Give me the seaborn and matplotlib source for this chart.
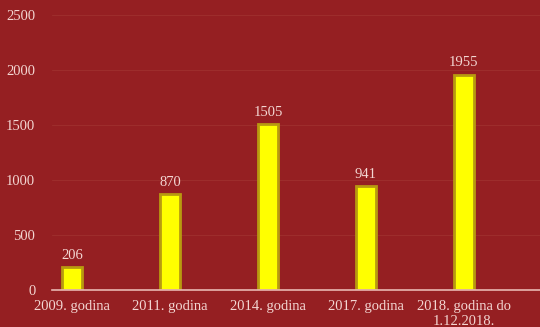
import matplotlib
matplotlib.use("Agg")
import matplotlib.pyplot as plt
import seaborn as sns
import pandas as pd

categories = ["2009. godina", "2011. godina", "2014. godina", "2017. godina", "2018. godina do\n1.12.2018."]
values = [206, 870, 1505, 941, 1955]
yticks = [0, 500, 1000, 1500, 2000, 2500]

BG = "#951f22"
TXT = "#f3d6d2"

sns.set_theme(style="white")
plt.rcParams["font.family"] = ["Liberation Serif", "DejaVu Serif"]

W, H = 540, 327
fig = plt.figure(figsize=(W / 100, H / 100), dpi=100)
fig.patch.set_facecolor(BG)
ax = fig.add_axes([52 / W, (327 - 290) / H, (540 - 52) / W, (290 - 15) / H])
ax.set_facecolor(BG)

df = pd.DataFrame({"cat": categories, "val": values})
sns.barplot(data=df, x="cat", y="val", ax=ax, width=0.2, color="#ffff00",
            edgecolor="#b89a10", linewidth=2.0, saturation=1)

ax.set_xlim(-0.204, 4.776)
ax.set_ylim(0, 2500)
ax.set_yticks(yticks)
ax.set_yticklabels([str(v) for v in yticks], color=TXT, fontsize=10.5)
ax.tick_params(axis="y", length=0, pad=12)
ax.tick_params(axis="x", length=0, pad=7, labelsize=10.5, labelcolor=TXT)
ax.set_xlabel("")
ax.set_ylabel("")
for v in yticks[1:]:
    ax.axhline(v, color="#9d2d2c", linewidth=0.8, zorder=0)
for s in ["top", "right", "left"]:
    ax.spines[s].set_visible(False)
ax.spines["bottom"].set_color("#e9b7b2")
ax.spines["bottom"].set_linewidth(1.2)

for c in ax.containers:
    ax.bar_label(c, labels=[str(v) for v in values], padding=4, color=TXT, fontsize=10.5)

fig.savefig("out.png", dpi=100, facecolor=BG)
